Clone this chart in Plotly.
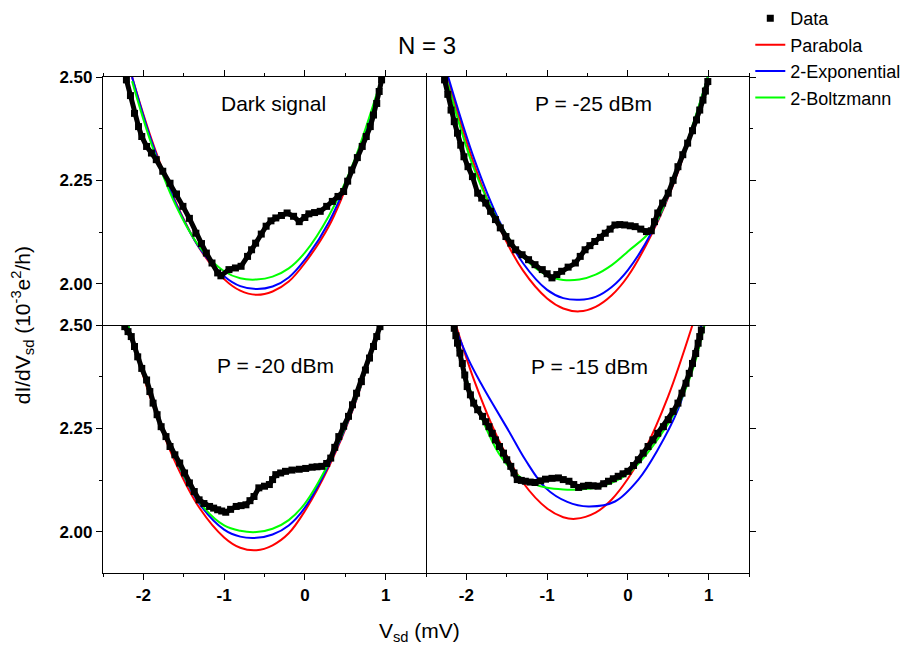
import plotly.graph_objects as go

# ---------------- data ----------------
# Panel "Dark signal"
v_dark = [-2.21, -2.16, -2.11, -2.06, -2.02, -1.96, -1.90, -1.84, -1.76, -1.67, -1.59, -1.51, -1.43,
          -1.35, -1.28, -1.22, -1.15, -1.08, -1.04, -0.94, -0.86, -0.79, -0.71, -0.66, -0.61, -0.54,
          -0.48, -0.42, -0.36, -0.29, -0.22, -0.14, -0.07, 0.0, 0.05, 0.12, 0.19, 0.27, 0.34, 0.41,
          0.48, 0.53, 0.58, 0.65, 0.71, 0.76, 0.81, 0.85, 0.89, 0.92, 0.95]
g_dark = [2.493, 2.455, 2.412, 2.380, 2.356, 2.332, 2.316, 2.300, 2.272, 2.243, 2.217, 2.187, 2.158,
          2.122, 2.097, 2.074, 2.050, 2.026, 2.019, 2.034, 2.038, 2.042, 2.066, 2.082, 2.098, 2.120,
          2.139, 2.152, 2.159, 2.165, 2.171, 2.163, 2.150, 2.160, 2.169, 2.172, 2.175, 2.187, 2.199, 2.211,
          2.223, 2.248, 2.275, 2.305, 2.332, 2.356, 2.380, 2.408, 2.436, 2.465, 2.493]
vfit_dark = [-2.14, -1.9, -1.6, -1.3, -1.0, -0.8, -0.6, -0.4, -0.2, 0.0, 0.3, 0.6, 0.97]
par_dark = [2.50, 2.350, 2.198, 2.084, 2.011, 1.983, 1.973, 1.981, 2.005, 2.050, 2.140, 2.279, 2.50]
exp_dark = [2.50, 2.345, 2.195, 2.085, 2.018, 1.994, 1.987, 1.993, 2.015, 2.058, 2.150, 2.285, 2.50]
bol_dark = [2.49, 2.338, 2.190, 2.088, 2.030, 2.013, 2.010, 2.017, 2.037, 2.075, 2.165, 2.292, 2.51]

# Panel "P = -25 dBm"
v_m25 = [-2.27, -2.23, -2.19, -2.15, -2.11, -2.07, -2.03, -1.98, -1.925, -1.86, -1.81, -1.76, -1.70,
         -1.64, -1.58, -1.51, -1.45, -1.39, -1.31, -1.23, -1.15, -1.06, -1.00, -0.94, -0.88, -0.82,
         -0.74, -0.65, -0.59, -0.53, -0.47, -0.41, -0.34, -0.28, -0.22, -0.16, -0.10, -0.04, 0.03,
         0.09, 0.16, 0.23, 0.29, 0.33, 0.37, 0.43, 0.50, 0.56, 0.62, 0.68, 0.74, 0.80, 0.85, 0.89,
         0.93, 0.96, 0.99]
g_m25 = [2.493, 2.458, 2.420, 2.392, 2.364, 2.335, 2.307, 2.283, 2.259, 2.219, 2.207, 2.195, 2.175,
         2.155, 2.135, 2.114, 2.098, 2.082, 2.070, 2.058, 2.046, 2.034, 2.024, 2.014, 2.022, 2.030,
         2.040, 2.050, 2.066, 2.082, 2.092, 2.102, 2.112, 2.122, 2.132, 2.142, 2.143, 2.142, 2.140,
         2.138, 2.132, 2.126, 2.128, 2.150, 2.171, 2.195, 2.219, 2.250, 2.283, 2.312, 2.340, 2.370,
         2.396, 2.420, 2.444, 2.466, 2.489]
vfit_m25 = [-2.24, -1.9, -1.6, -1.3, -1.0, -0.8, -0.6, -0.4, -0.2, 0.0, 0.3, 0.6, 0.99]
par_m25 = [2.50, 2.286, 2.140, 2.032, 1.964, 1.940, 1.933, 1.944, 1.972, 2.018, 2.122, 2.259, 2.50]
exp_m25 = [2.51, 2.300, 2.155, 2.050, 1.985, 1.965, 1.961, 1.968, 1.992, 2.033, 2.126, 2.262, 2.50]
bol_m25 = [2.49, 2.275, 2.150, 2.065, 2.020, 2.009, 2.010, 2.022, 2.045, 2.078, 2.132, 2.268, 2.50]

# Panel "P = -20 dBm"
v_m20 = [-2.23, -2.19, -2.15, -2.11, -2.07, -2.02, -1.96, -1.92, -1.88, -1.83, -1.78, -1.72, -1.67,
         -1.61, -1.55, -1.49, -1.43, -1.37, -1.31, -1.25, -1.18, -1.13, -1.08, -1.03, -0.98, -0.92,
         -0.85, -0.79, -0.73, -0.68, -0.63, -0.57, -0.50, -0.44, -0.40, -0.36, -0.30, -0.24, -0.16,
         -0.07, 0.01, 0.09, 0.15, 0.21, 0.27, 0.32, 0.37, 0.42, 0.48, 0.54, 0.59, 0.64, 0.70, 0.75,
         0.80, 0.85, 0.89, 0.93]
g_m20 = [2.496, 2.484, 2.472, 2.448, 2.423, 2.395, 2.367, 2.339, 2.311, 2.283, 2.254, 2.230, 2.206,
         2.186, 2.166, 2.142, 2.118, 2.097, 2.077, 2.068, 2.061, 2.057, 2.053, 2.050, 2.047, 2.054,
         2.061, 2.063, 2.065, 2.075, 2.085, 2.106, 2.110, 2.114, 2.126, 2.138, 2.142, 2.146, 2.149,
         2.151, 2.153, 2.156, 2.157, 2.158, 2.165, 2.178, 2.204, 2.230, 2.255, 2.279, 2.307, 2.335,
         2.363, 2.391, 2.420, 2.448, 2.472, 2.496]
vfit_m20 = [-2.19, -1.9, -1.6, -1.3, -1.0, -0.8, -0.6, -0.4, -0.2, 0.0, 0.3, 0.6, 0.93]
par_m20 = [2.50, 2.316, 2.166, 2.056, 1.986, 1.961, 1.955, 1.967, 1.996, 2.050, 2.158, 2.298, 2.50]
exp_m20 = [2.50, 2.325, 2.175, 2.066, 2.005, 1.988, 1.985, 1.993, 2.015, 2.058, 2.163, 2.300, 2.50]
bol_m20 = [2.50, 2.322, 2.176, 2.070, 2.015, 2.002, 1.999, 2.007, 2.028, 2.068, 2.168, 2.302, 2.50]

# Panel "P = -15 dBm"
v_m15 = [-2.15, -2.13, -2.11, -2.08, -2.05, -2.02, -1.99, -1.95, -1.91, -1.86, -1.80, -1.76, -1.72,
         -1.68, -1.64, -1.59, -1.54, -1.50, -1.45, -1.41, -1.37, -1.32, -1.27, -1.21, -1.15, -1.08,
         -1.02, -0.94, -0.86, -0.80, -0.73, -0.67, -0.61, -0.55, -0.49, -0.43, -0.37, -0.30, -0.24,
         -0.18, -0.12, -0.06, 0.00, 0.07, 0.13, 0.19, 0.25, 0.31, 0.37, 0.44, 0.50, 0.56, 0.62, 0.67,
         0.72, 0.76, 0.80, 0.84, 0.87, 0.89, 0.91]
g_m15 = [2.492, 2.474, 2.456, 2.432, 2.407, 2.379, 2.351, 2.331, 2.311, 2.295, 2.279, 2.266, 2.254,
         2.238, 2.222, 2.206, 2.190, 2.174, 2.158, 2.142, 2.126, 2.124, 2.122, 2.120, 2.119, 2.123,
         2.127, 2.129, 2.130, 2.126, 2.122, 2.114, 2.107, 2.110, 2.112, 2.111, 2.110, 2.116, 2.122,
         2.128, 2.134, 2.140, 2.146, 2.160, 2.174, 2.190, 2.206, 2.222, 2.238, 2.254, 2.271, 2.291,
         2.311, 2.335, 2.359, 2.383, 2.407, 2.431, 2.456, 2.472, 2.488]
vpar_m15 = [-2.13, -1.9, -1.6, -1.3, -1.0, -0.8, -0.65, -0.4, -0.2, 0.0, 0.2, 0.5, 0.8]
par_m15 = [2.50, 2.364, 2.222, 2.119, 2.056, 2.035, 2.031, 2.046, 2.078, 2.128, 2.194, 2.328, 2.50]
vexp_m15 = [-2.15, -1.97, -1.82, -1.68, -1.47, -1.27, -1.02, -0.75, -0.49, -0.16, 0.13, 0.37, 0.62, 0.78, 0.91]
exp_m15 = [2.50, 2.415, 2.359, 2.311, 2.242, 2.174, 2.106, 2.072, 2.061, 2.073, 2.126, 2.198, 2.295, 2.391, 2.50]
vbol_m15 = [-2.17, -2.0, -1.8, -1.6, -1.4, -1.2, -1.0, -0.8, -0.6, -0.4, -0.2, 0.0, 0.2, 0.4, 0.6, 0.8, 0.95]
bol_m15 = [2.50, 2.37, 2.27, 2.19, 2.142, 2.118, 2.106, 2.102, 2.102, 2.106, 2.118, 2.140, 2.180, 2.232,
           2.295, 2.390, 2.50]

panel_labels = ["Dark signal", "P = -25 dBm", "P = -20 dBm", "P = -15 dBm"]
series_names = ["Data", "Parabola", "2-Exponential", "2-Boltzmann"]
x_ticks = [-2, -1, 0, 1]
x_ticktext = ["-2", "-1", "0", "1"]
y_ticks = [2.00, 2.25, 2.50]
y_ticktext = ["2.00", "2.25", "2.50"]

# ---------------- figure ----------------
FONT = "Liberation Sans, Arial, sans-serif"
RED, BLUE, GREEN = "#ff0000", "#0000ff", "#00ff00"

panels = [
    (v_dark, g_dark, vfit_dark, par_dark, vfit_dark, exp_dark, vfit_dark, bol_dark, "x3", "y3"),
    (v_m25, g_m25, vfit_m25, par_m25, vfit_m25, exp_m25, vfit_m25, bol_m25, "x4", "y4"),
    (v_m20, g_m20, vfit_m20, par_m20, vfit_m20, exp_m20, vfit_m20, bol_m20, "x", "y"),
    (v_m15, g_m15, vpar_m15, par_m15, vexp_m15, exp_m15, vbol_m15, bol_m15, "x2", "y2"),
]

fig = go.Figure()
for i, (vd, gd, vp, gp, ve, ge, vb, gb, xa, ya) in enumerate(panels):
    first = i == 0
    for vv, gg, col, name, rank in [(vp, gp, RED, series_names[1], 2),
                                     (ve, ge, BLUE, series_names[2], 3),
                                     (vb, gb, GREEN, series_names[3], 4)]:
        fig.add_trace(go.Scatter(x=vv, y=gg, mode="lines", name=name, legendgroup=name,
                                 showlegend=first, legendrank=rank,
                                 line=dict(color=col, width=2, shape="spline", smoothing=1.0),
                                 xaxis=xa, yaxis=ya))
    # continuity band under the square markers
    fig.add_trace(go.Scatter(x=vd, y=gd, mode="lines", showlegend=False, legendgroup="Data",
                             line=dict(color="black", width=5), xaxis=xa, yaxis=ya, hoverinfo="skip"))
    fig.add_trace(go.Scatter(x=vd, y=gd, mode="markers", name=series_names[0], legendgroup="Data",
                             showlegend=first, legendrank=1,
                             marker=dict(symbol="square", size=7, color="black"),
                             xaxis=xa, yaxis=ya))

tickfont = dict(family=FONT, size=17, color="black", weight="bold")
common_x = dict(range=[-2.5, 1.5], tickvals=x_ticks, ticktext=x_ticktext, ticks="outside", ticklen=6,
                tickwidth=1.2, showline=True, linecolor="black", linewidth=1.2, showgrid=False,
                zeroline=False, tickfont=tickfont, tickcolor="black",
                minor=dict(ticks="outside", ticklen=3, tickwidth=1.2, dtick=0.5, tick0=0,
                           tickcolor="black", showgrid=False))
common_y = dict(range=[1.9, 2.5], tickvals=y_ticks, ticktext=y_ticktext, ticks="outside", ticklen=6,
                tickwidth=1.2, showline=True, linecolor="black", linewidth=1.2,
                showgrid=False, zeroline=False, tickfont=tickfont, tickcolor="black",
                minor=dict(ticks="outside", ticklen=3, tickwidth=1.2, dtick=0.125, tick0=2.0,
                           tickcolor="black", showgrid=False))

fig.update_layout(
    width=922, height=648,
    margin=dict(l=103, r=173, t=77, b=75, autoexpand=False),
    paper_bgcolor="white", plot_bgcolor="white",
    xaxis=dict(common_x, domain=[0, 0.5], anchor="y"),
    xaxis2=dict(common_x, domain=[0.5, 1], anchor="y2"),
    xaxis3=dict(common_x, domain=[0, 0.5], anchor="y3", side="top", showticklabels=False, mirror=True),
    xaxis4=dict(common_x, domain=[0.5, 1], anchor="y4", side="top", showticklabels=False, mirror=True),
    yaxis=dict(common_y, domain=[0, 0.5], anchor="x", mirror=True),
    yaxis2=dict(common_y, domain=[0, 0.5], anchor="x2", side="right", showticklabels=False),
    yaxis3=dict(common_y, domain=[0.5, 1], anchor="x3", mirror=True),
    yaxis4=dict(common_y, domain=[0.5, 1], anchor="x4", side="right", showticklabels=False),
    showlegend=True,
    legend=dict(x=1.002, y=1.155, xanchor="left", yanchor="top", bgcolor="rgba(0,0,0,0)",
                font=dict(family=FONT, size=18, color="black"), itemwidth=30,
                tracegroupgap=0),
    font=dict(family=FONT, color="black"),
)

label_pos = [("x3", "y3", -0.39, 2.435), ("x4", "y4", -0.42, 2.437),
             ("x", "y", -0.37, 2.401), ("x2", "y2", -0.47, 2.399)]
for txt, (xr, yr, xx, yy) in zip(panel_labels, label_pos):
    fig.add_annotation(text=txt, xref=xr, yref=yr, x=xx, y=yy, showarrow=False,
                       xanchor="center", yanchor="middle",
                       font=dict(family=FONT, size=21, color="black"))

fig.add_annotation(text="N = 3", xref="paper", yref="paper", x=0.5015, y=1.0645, showarrow=False,
                   xanchor="center", yanchor="middle",
                   font=dict(family=FONT, size=24, color="black"))
fig.add_annotation(text="V<sub>sd</sub> (mV)", xref="paper", yref="paper", x=0.49, y=-0.119,
                   xanchor="center", yanchor="middle",
                   showarrow=False, font=dict(family=FONT, size=21, color="black"))
fig.add_annotation(text="dI/dV<sub>sd</sub> (10<sup>-3</sup>e<sup>2</sup>/h)", xref="paper", yref="paper",
                   x=-0.125, y=0.5, textangle=-90, showarrow=False, xanchor="center", yanchor="middle",
                   font=dict(family=FONT, size=21, color="black"))

fig.write_html("out.html")
